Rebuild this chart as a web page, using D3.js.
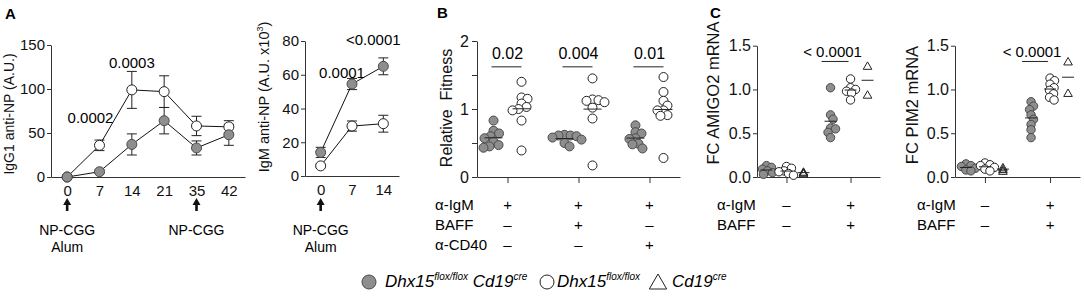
<!DOCTYPE html>
<html><head><meta charset="utf-8">
<script src="https://cdn.jsdelivr.net/npm/d3@7"></script>
<style>
body{margin:0;background:#fff}
svg{font-family:"Liberation Sans",Arial,sans-serif}
</style></head><body>
<svg id="c" width="1084" height="302"></svg>
<script>
// ---------- DATA ----------
// Panel A (IgG1)
const daysA1 = ["0","7","14","21","35","42"];
const igg1Flox = [0, 36, 99, 97, 58, 57];
const igg1FloxErr = [0, 6, 21, 18, 11, 7];
const igg1Cre = [0, 6, 37, 64, 33, 48];
const igg1CreErr = [0, 2, 12, 15, 8, 12];
const igg1Ticks = [0, 50, 100, 150];
const igg1PLabels = ["0.0002", "0.0003"];
const igg1PDays = ["7", "14"];
// Panel A (IgM)
const daysA2 = ["0","7","14"];
const igmCre = [14, 54.5, 65];
const igmCreErr = [3, 3.3, 5];
const igmFlox = [6, 29.6, 31];
const igmFloxErr = [1, 3, 5];
const igmTicks = [0, 20, 40, 60, 80];
const igmPLabels = ["0.0001", "<0.0001"];
const igmPDays = ["7", "14"];
// Panel B
const groupsB = ["g1","g2","g3"];
const fitCre = [
  [0.83, 0.68, 0.64, 0.60, 0.57, 0.52, 0.47, 0.45, 0.43],
  [0.62, 0.61, 0.61, 0.60, 0.58, 0.55, 0.50, 0.45],
  [0.76, 0.66, 0.64, 0.57, 0.56, 0.49, 0.48, 0.42]
];
const fitFlox = [
  [1.40, 1.17, 1.15, 1.08, 1.03, 1.00, 0.98, 0.83, 0.39],
  [1.45, 1.14, 1.13, 1.12, 1.10, 1.02, 0.86, 0.17],
  [1.47, 1.25, 1.12, 1.05, 0.98, 0.98, 0.91, 0.90, 0.28]
];
const fitP = ["0.02", "0.004", "0.01"];
const fitTicks = [0, 0.5, 1, 1.5, 2];
const rowsB = ["α-IgM", "BAFF", "α-CD40"];
const signsB = [["+","+","+"], ["–","+","–"], ["–","–","+"]];
// Panel C
const groupsC = ["g1","g2"];
const amCre = [[0.13, 0.11, 0.09, 0.07, 0.05, 0.03], [1.02, 0.71, 0.66, 0.56, 0.55, 0.51, 0.45]];
const amFlox = [[0.12, 0.10, 0.07, 0.06, 0.04, 0.02], [1.12, 1.02, 1.00, 0.98, 0.96, 0.88]];
const amCd19 = [[0.06, 0.05, 0.04], [1.27, 0.94]];
const pmCre = [[0.15, 0.13, 0.12, 0.10, 0.08, 0.07], [0.86, 0.81, 0.77, 0.71, 0.66, 0.60, 0.54, 0.45]];
const pmFlox = [[0.16, 0.14, 0.13, 0.11, 0.09, 0.07], [1.13, 1.10, 1.06, 1.02, 0.99, 0.95, 0.91, 0.88]];
const pmCd19 = [[0.11, 0.09, 0.07], [1.32, 0.96]];
const cTicks = [0, 0.5, 1.0, 1.5];
const cP = "< 0.0001";
const rowsC = ["α-IgM", "BAFF"];
const signsC = [["–","+"], ["–","+"]];

// ---------- DRAW ----------
const svg = d3.select("#c");
const FILL = "#8e8e8e", STROKE = "#4a4a4a", AX = "#333";

function styleAxis(g, fs) {
  g.select(".domain").attr("stroke", AX);
  g.selectAll(".tick line").attr("stroke", AX);
  g.selectAll(".tick text").attr("fill", "#111").attr("font-size", fs).attr("font-family", '"Liberation Sans",Arial,sans-serif');
}
function yLabel(x, y, text, fs) {
  svg.append("text").attr("transform", `translate(${x},${y}) rotate(-90)`)
    .attr("text-anchor", "middle").attr("font-size", fs).attr("fill", "#111")
    .style("white-space", "pre").text(text);
}
function letter(x, y, t) {
  svg.append("text").attr("x", x).attr("y", y).attr("font-size", 15).attr("font-weight", "bold").text(t);
}
function arrowUp(x, yTip) {
  svg.append("path").attr("fill", "#111")
    .attr("d", `M${x},${yTip} L${x-4},${yTip+7} L${x-1.3},${yTip+7} L${x-1.3},${yTip+13} L${x+1.3},${yTip+13} L${x+1.3},${yTip+7} L${x+4},${yTip+7} Z`);
}
function swarm(vals, ys, sep) {
  const pts = vals.map(v => ({v, y: ys(v)})).sort((a, b) => a.y - b.y);
  const placed = [];
  pts.forEach(p => {
    let best = null;
    for (let k = 0; k < 80 && best === null; k++) {
      const c = k === 0 ? [0] : [k * 0.5, -k * 0.5];
      for (const dx of c) {
        if (placed.every(q => Math.hypot(q.dx - dx, q.y - p.y) >= sep)) { best = dx; break; }
      }
    }
    p.dx = best === null ? 0 : best;
    placed.push(p);
  });
  return pts;
}

// ----- Panel A1 -----
letter(5, 19, "A");
const xA1 = d3.scalePoint().domain(daysA1).range([51, 245]).padding(0.5);
const yA1 = d3.scaleLinear().domain([0, 150]).range([177, 45]);
styleAxis(svg.append("g").attr("transform", "translate(51,0)")
  .call(d3.axisLeft(yA1).tickValues(igg1Ticks).tickSize(4).tickPadding(2).tickSizeOuter(0)), 15);
styleAxis(svg.append("g").attr("transform", "translate(0,177)")
  .call(d3.axisBottom(xA1).tickSize(0).tickPadding(8)), 15);
yLabel(14, 114, "IgG1 anti-NP (A.U.)", 14);

function lineSeries(xs, ys, days, vals, errs) {
  const data = days.map((d, i) => ({d, v: vals[i], e: errs[i]}));
  const eb = svg.append("g").attr("stroke", "#222").attr("stroke-width", 1);
  data.filter(p => p.e > 0).forEach(p => {
    const x = xs(p.d);
    eb.append("line").attr("x1", x).attr("x2", x).attr("y1", ys(p.v - p.e)).attr("y2", ys(p.v + p.e));
    [p.v - p.e, p.v + p.e].forEach(v => eb.append("line").attr("x1", x - 5).attr("x2", x + 5).attr("y1", ys(v)).attr("y2", ys(v)));
  });
  svg.append("path").datum(data).attr("fill", "none").attr("stroke", "#111").attr("stroke-width", 1)
    .attr("d", d3.line().x(p => xs(p.d)).y(p => ys(p.v)));
  return data;
}
function drawPts(data, xs, ys, filled, r) {
  svg.append("g").selectAll("circle").data(data).join("circle")
    .attr("cx", p => xs(p.d)).attr("cy", p => ys(p.v)).attr("r", r)
    .attr("fill", filled ? FILL : "#fff").attr("stroke", filled ? STROKE : "#222").attr("stroke-width", 1);
}
const a1f = lineSeries(xA1, yA1, daysA1, igg1Flox, igg1FloxErr);
const a1c = lineSeries(xA1, yA1, daysA1, igg1Cre, igg1CreErr);
drawPts(a1f, xA1, yA1, false, 5);
drawPts(a1c, xA1, yA1, true, 5);
svg.append("text").attr("x", xA1(igg1PDays[0]) - 9).attr("y", yA1(igg1Flox[1]) - 22)
  .attr("text-anchor", "middle").attr("font-size", 15).text(igg1PLabels[0]);
svg.append("text").attr("x", xA1(igg1PDays[1])).attr("y", yA1(igg1Flox[2]) - 22)
  .attr("text-anchor", "middle").attr("font-size", 15).text(igg1PLabels[1]);
arrowUp(xA1("0"), 198);
arrowUp(xA1("35"), 198);
svg.append("text").attr("x", xA1("0")).attr("y", 235).attr("text-anchor", "middle").attr("font-size", 14).text("NP-CGG");
svg.append("text").attr("x", xA1("0")).attr("y", 252).attr("text-anchor", "middle").attr("font-size", 14).text("Alum");
svg.append("text").attr("x", xA1("35")).attr("y", 235).attr("text-anchor", "middle").attr("font-size", 14).text("NP-CGG");

// ----- Panel A2 -----
const xA2 = d3.scalePoint().domain(daysA2).range([305, 399]).padding(0.5);
const yA2 = d3.scaleLinear().domain([0, 80]).range([176, 41]);
styleAxis(svg.append("g").attr("transform", "translate(305,0)")
  .call(d3.axisLeft(yA2).tickValues(igmTicks).tickSize(4).tickPadding(2).tickSizeOuter(0)), 15);
styleAxis(svg.append("g").attr("transform", "translate(0,176)")
  .call(d3.axisBottom(xA2).tickSize(0).tickPadding(8)), 15);
const lab2 = svg.append("text").attr("transform", "translate(269,97) rotate(-90)")
  .attr("text-anchor", "middle").attr("font-size", 14.5).attr("fill", "#111");
lab2.append("tspan").text("IgM anti-NP (A.U. x10");
lab2.append("tspan").attr("font-size", 9).attr("dy", -6).text("3");
lab2.append("tspan").attr("dy", 6).text(")");
const a2c = lineSeries(xA2, yA2, daysA2, igmCre, igmCreErr);
const a2f = lineSeries(xA2, yA2, daysA2, igmFlox, igmFloxErr);
drawPts(a2f, xA2, yA2, false, 5);
drawPts(a2c, xA2, yA2, true, 5);
svg.append("text").attr("x", xA2(igmPDays[0]) - 10).attr("y", yA2(igmCre[1]) - 6)
  .attr("text-anchor", "middle").attr("font-size", 15).text(igmPLabels[0]);
svg.append("text").attr("x", xA2(igmPDays[1]) - 10).attr("y", yA2(igmCre[2]) - 21)
  .attr("text-anchor", "middle").attr("font-size", 15).text(igmPLabels[1]);
arrowUp(xA2("0"), 198);
svg.append("text").attr("x", xA2("0")).attr("y", 235).attr("text-anchor", "middle").attr("font-size", 14).text("NP-CGG");
svg.append("text").attr("x", xA2("0")).attr("y", 252).attr("text-anchor", "middle").attr("font-size", 14).text("Alum");

// ----- Panel B -----
letter(437, 18, "B");
const xB = d3.scalePoint().domain(groupsB).range([477, 680]).padding(0.43);
const yB = d3.scaleLinear().domain([0, 2]).range([177, 41]);
styleAxis(svg.append("g").attr("transform", "translate(477,0)")
  .call(d3.axisLeft(yB).tickValues(fitTicks).tickFormat(d => Number.isInteger(d) ? d : "").tickSize(5).tickPadding(3).tickSizeOuter(0)), 16);
styleAxis(svg.append("g").attr("transform", "translate(0,177)")
  .call(d3.axisBottom(xB).tickSize(6).tickFormat("").tickSizeOuter(0)), 16);
yLabel(452, 108, "Relative  Fitness", 16);

function cluster(xc, ys, vals, filled, r, sep, mw, shape) {
  const pts = swarm(vals, ys, sep);
  const g = svg.append("g");
  if (shape === "tri") {
    g.selectAll("path").data(pts).join("path")
      .attr("d", d3.symbol(d3.symbolTriangle, 32)())
      .attr("transform", p => `translate(${xc + p.dx},${p.y + 1})`)
      .attr("fill", "none").attr("stroke", "#222").attr("stroke-width", 1);
  } else {
    g.selectAll("circle").data(pts).join("circle")
      .attr("cx", p => xc + p.dx).attr("cy", p => p.y).attr("r", r)
      .attr("fill", filled ? FILL : "#fff").attr("stroke", filled ? STROKE : "#222").attr("stroke-width", 1);
  }
  const m = d3.mean(vals);
  svg.append("line").attr("x1", xc - mw).attr("x2", xc + mw).attr("y1", ys(m)).attr("y2", ys(m))
    .attr("stroke", "#222").attr("stroke-width", 1);
}
groupsB.forEach((g, i) => {
  const xc = xB(g);
  cluster(xc - 14, yB, fitCre[i], true, 4.5, 6, 9);
  cluster(xc + 14, yB, fitFlox[i], false, 4.5, 6, 9);
  svg.append("line").attr("x1", xc - 16).attr("x2", xc + 14).attr("y1", yB(1.62)).attr("y2", yB(1.62))
    .attr("stroke", "#222").attr("stroke-width", 1);
  svg.append("text").attr("x", xc).attr("y", yB(1.73)).attr("text-anchor", "middle").attr("font-size", 16).text(fitP[i]);
});
rowsB.forEach((r, j) => {
  svg.append("text").attr("x", 435).attr("y", 210 + j * 20).attr("font-size", 15).text(r);
  groupsB.forEach((g, i) => svg.append("text").attr("x", xB(g)).attr("y", 210 + j * 20)
    .attr("text-anchor", "middle").attr("font-size", 15).text(signsB[j][i]));
});

// ----- Panel C -----
letter(710, 18, "C");
function panelC(x0, x1, label, labX, labY, cre, flox, cd, fOff, tOff, rowX) {
  const xs = d3.scalePoint().domain(groupsC).range([x0, x1]).padding(0.46);
  const ys = d3.scaleLinear().domain([0, 1.5]).range([177, 45.7]);
  styleAxis(svg.append("g").attr("transform", `translate(${x0},0)`)
    .call(d3.axisLeft(ys).tickValues(cTicks).tickFormat(d3.format(".1f")).tickSize(4).tickPadding(2).tickSizeOuter(0)), 16);
  styleAxis(svg.append("g").attr("transform", "translate(0,177)")
    .call(d3.axisBottom(xs).tickSize(6).tickFormat("").tickSizeOuter(0)), 16);
  yLabel(labX, labY, label, 16.5);
  groupsC.forEach((g, i) => {
    const xc = xs(g);
    cluster(xc + fOff, ys, cre[i], true, 4.2, 5, 6);
    cluster(xc, ys, flox[i], false, 4.2, 5, 6);
    cluster(xc + tOff, ys, cd[i], false, 4.2, 0, 6, "tri");
  });
  const xc = xs("g2");
  svg.append("line").attr("x1", xc + fOff - 9).attr("x2", xc - 2).attr("y1", ys(1.32)).attr("y2", ys(1.32))
    .attr("stroke", "#222").attr("stroke-width", 1);
  svg.append("text").attr("x", xc - 18).attr("y", ys(1.37)).attr("text-anchor", "middle").attr("font-size", 15).text(cP);
  rowsC.forEach((r, j) => {
    svg.append("text").attr("x", rowX).attr("y", 210 + j * 20).attr("font-size", 15).text(r);
    groupsC.forEach((g, i) => svg.append("text").attr("x", xs(g)).attr("y", 210 + j * 20)
      .attr("text-anchor", "middle").attr("font-size", 15).text(signsC[j][i]));
  });
}
panelC(757, 880, "FC AMIGO2 mRNA", 719, 93, amCre, amFlox, amCd19, -20, 17, 717);
panelC(955, 1080, "FC PIM2 mRNA", 918, 105, pmCre, pmFlox, pmCd19, -19, 18, 917);

// ----- Legend -----
const leg = svg.append("g");
leg.append("circle").attr("cx", 369).attr("cy", 282).attr("r", 7).attr("fill", FILL).attr("stroke", STROKE);
const t1 = leg.append("text").attr("x", 385).attr("y", 287).attr("font-size", 17).attr("font-style", "italic");
t1.append("tspan").text("Dhx15");
t1.append("tspan").attr("font-size", 10).attr("dy", -7).text("flox/flox");
t1.append("tspan").attr("dy", 7).text(" Cd19");
t1.append("tspan").attr("font-size", 10).attr("dy", -7).text("cre");
leg.append("circle").attr("cx", 547).attr("cy", 282).attr("r", 7).attr("fill", "#fff").attr("stroke", "#222");
const t2 = leg.append("text").attr("x", 557).attr("y", 287).attr("font-size", 17).attr("font-style", "italic");
t2.append("tspan").text("Dhx15");
t2.append("tspan").attr("font-size", 10).attr("dy", -7).text("flox/flox");
leg.append("path").attr("d", d3.symbol(d3.symbolTriangle, 130)()).attr("transform", "translate(658,284)")
  .attr("fill", "#fff").attr("stroke", "#222");
const t3 = leg.append("text").attr("x", 672).attr("y", 287).attr("font-size", 17).attr("font-style", "italic");
t3.append("tspan").text("Cd19");
t3.append("tspan").attr("font-size", 10).attr("dy", -7).text("cre");
</script>
</body></html>
